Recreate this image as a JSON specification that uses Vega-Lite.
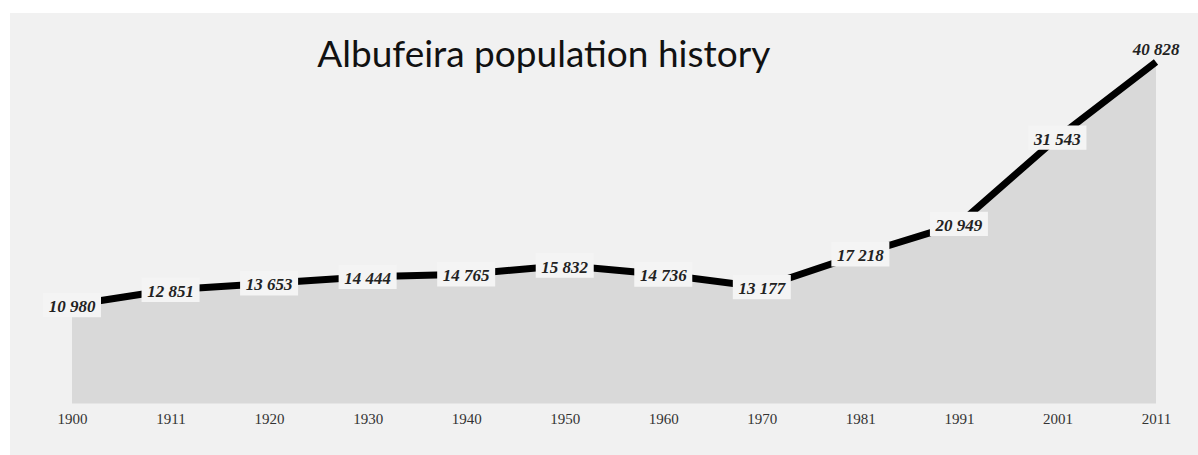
{
  "$schema": "https://vega.github.io/schema/vega-lite/v6.json",
  "width": 1200,
  "height": 450,
  "autosize": {"type": "none"},
  "padding": {"left": 10, "top": 13, "right": 0, "bottom": 0},
  "background": "#ffffff",
  "config": {
    "view": {"stroke": null, "fill": "#f1f1f1"},
    "locale": {"number": {"decimal": ".", "thousands": " ", "grouping": [3], "currency": ["", ""]}}
  },
  "data": {
    "values": [
      {"year": "1900", "pop": 10980},
      {"year": "1911", "pop": 12851},
      {"year": "1920", "pop": 13653},
      {"year": "1930", "pop": 14444},
      {"year": "1940", "pop": 14765},
      {"year": "1950", "pop": 15832},
      {"year": "1960", "pop": 14736},
      {"year": "1970", "pop": 13177},
      {"year": "1981", "pop": 17218},
      {"year": "1991", "pop": 20949},
      {"year": "2001", "pop": 31543},
      {"year": "2011", "pop": 40828}
    ]
  },
  "encoding": {
    "x": {
      "field": "year",
      "type": "ordinal",
      "scale": {"type": "point", "range": [62, 1146], "padding": 0},
      "axis": {
        "title": null,
        "labelAngle": 0,
        "ticks": false,
        "domain": false,
        "grid": false,
        "offset": -45,
        "labelPadding": 0,
        "labelBaseline": "middle",
        "labelFont": "Liberation Serif",
        "labelFontSize": 15,
        "labelColor": "#333333"
      }
    },
    "y": {
      "field": "pop",
      "type": "quantitative",
      "scale": {"domain": [-1100, 40828], "range": [390.4, 49], "zero": false, "nice": false},
      "axis": null
    }
  },
  "layer": [
    {
      "mark": {"type": "area", "color": "#d9d9d9"},
      "encoding": {"y2": {"datum": -1100}}
    },
    {
      "mark": {"type": "line", "color": "#000000", "strokeWidth": 7}
    },
    {
      "transform": [{"filter": "datum.year != '2011'"}],
      "mark": {"type": "point", "shape": "M-1,-0.42H1V0.42H-1Z", "filled": true, "fill": "#f4f4f4", "opacity": 1, "size": 3364, "strokeWidth": 0}
    },
    {
      "transform": [{"filter": "datum.year != '2011'"}],
      "mark": {"type": "text", "font": "Liberation Serif", "fontStyle": "italic", "fontWeight": "bold", "fontSize": 17, "color": "#222222", "baseline": "middle", "dy": 2},
      "encoding": {"text": {"field": "pop", "type": "quantitative", "format": ",d"}}
    },
    {
      "transform": [{"filter": "datum.year == '2011'"}],
      "mark": {"type": "text", "font": "Liberation Serif", "fontStyle": "italic", "fontWeight": "bold", "fontSize": 17, "color": "#222222", "baseline": "middle", "dy": -12},
      "encoding": {"text": {"field": "pop", "type": "quantitative", "format": ",d"}}
    },
    {
      "transform": [{"filter": "datum.year == '1950'"}],
      "mark": {"type": "text", "font": "Lato", "fontSize": 37, "color": "#111111", "align": "center", "baseline": "alphabetic", "dx": -21},
      "encoding": {
        "y": {"datum": 40214},
        "text": {"value": "Albufeira population history"}
      }
    }
  ]
}
